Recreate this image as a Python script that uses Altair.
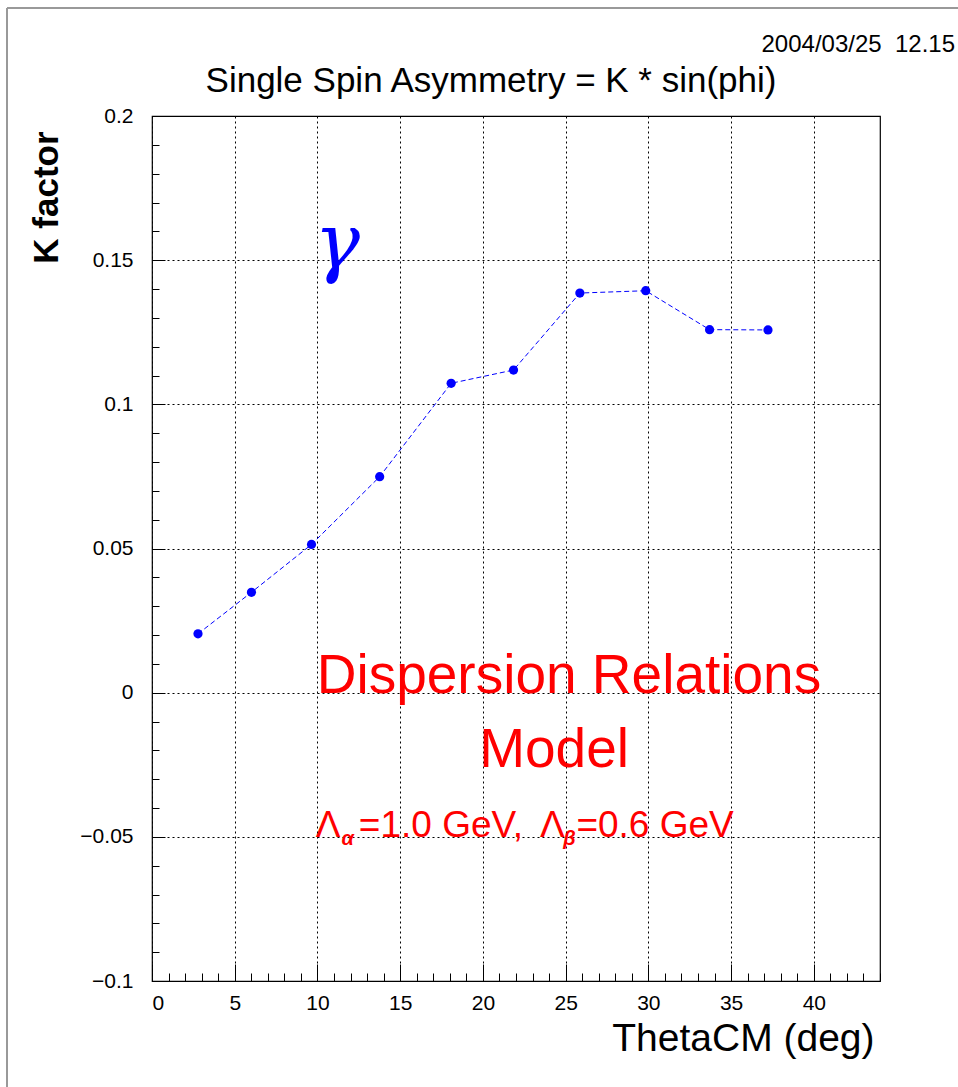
import altair as alt
import pandas as pd

# ---- data ----
theta_cm = [2.78, 6.01, 9.64, 13.76, 18.08, 21.85, 25.86, 29.84, 33.70, 37.23]
k_factor = [0.0204, 0.0348, 0.0514, 0.0749, 0.1073, 0.1119, 0.1386, 0.1394, 0.1259, 0.1258]

x_major = [0, 5, 10, 15, 20, 25, 30, 35, 40]
x_minor = list(range(0, 45))
y_major = [-0.1, -0.05, 0, 0.05, 0.1, 0.15, 0.2]
y_minor = [round(-0.1 + 0.01 * i, 2) for i in range(31)]

title_text = "Single Spin Asymmetry = K * sin(phi)"
date_text = "2004/03/25\u00a0\u00a012.15"
x_title = "ThetaCM (deg)"
y_title = "K factor"

# annotations (data coordinates)
big_text = ["Dispersion Relations", "Model"]
big_x = [25.2, 24.3]
big_y = [0.0, -0.0258]

lam_text = ["Λ", "=1.0 GeV,", "Λ", "=0.6 GeV"]
lam_x = [9.9, 12.5, 23.45, 25.65]
lam_y = [-0.05, -0.05, -0.05, -0.05]

sub_text = ["α", "β"]
sub_x = [11.45, 24.85]
sub_y = [-0.0529, -0.0527]

gamma_text = ["γ"]
gamma_x = [11.2]
gamma_y = [0.1473]

W, H = 728, 865
FONT = "Liberation Sans"

df = pd.DataFrame({"theta": theta_cm, "k": k_factor})
xs = alt.Scale(domain=[0, 44], nice=False, zero=False)
ys = alt.Scale(domain=[-0.1, 0.2], nice=False, zero=False)

blue = "#0000ff"
red = "#ff0000"

main_x_axis = alt.Axis(
    values=x_major, grid=True, gridDash=[2, 3], gridColor="black", gridOpacity=1,
    ticks=False, domain=False, labelFont=FONT, labelFontSize=21, labelColor="black",
    labelPadding=11, title=x_title, titleFont=FONT, titleFontSize=39,
    titleFontWeight="normal", titleColor="black", titleX=722, titleY=69,
    titleAlign="right", titleBaseline="alphabetic", orient="bottom",
)
main_y_axis = alt.Axis(
    values=y_major, grid=True, gridDash=[2, 3], gridColor="black", gridOpacity=1,
    ticks=False, domain=False, labelFont=FONT, labelFontSize=21, labelColor="black",
    labelPadding=19, format="~g", title=y_title, titleFont=FONT, titleFontSize=35,
    titleFontWeight="bold", titleColor="black", titleX=-95, titleY=81,
    titleAlign="center", titleBaseline="alphabetic", titleAngle=-90, orient="left",
)

line = alt.Chart(df).mark_line(color=blue, strokeDash=[5, 3], strokeWidth=1).encode(
    x=alt.X("theta:Q", scale=xs, axis=main_x_axis),
    y=alt.Y("k:Q", scale=ys, axis=main_y_axis),
)

pts = alt.Chart(df).mark_circle(color=blue, size=85, opacity=1).encode(
    x=alt.X("theta:Q", scale=xs, axis=alt.Axis(
        values=x_major, orient="bottom", offset=-17, tickSize=17, tickColor="black",
        labels=False, domain=False, grid=False, title=None)),
    y=alt.Y("k:Q", scale=ys, axis=alt.Axis(
        values=y_major, orient="left", offset=-13, tickSize=13, tickColor="black",
        labels=False, domain=False, grid=False, title=None)),
)

big_df = pd.DataFrame({"t": big_text, "ax": big_x, "ay": big_y})
big = alt.Chart(big_df).mark_text(
    color=red, font=FONT, fontSize=55, align="center", baseline="alphabetic"
).encode(
    x=alt.X("ax:Q", scale=xs, axis=alt.Axis(
        values=x_minor, orient="bottom", offset=-8, tickSize=8, tickColor="black",
        labels=False, domain=False, grid=False, title=None)),
    y=alt.Y("ay:Q", scale=ys, axis=alt.Axis(
        values=y_minor, orient="left", offset=-7, tickSize=7, tickColor="black",
        labels=False, domain=False, grid=False, title=None)),
    text="t:N",
)

lam_df = pd.DataFrame({"t": lam_text, "ax": lam_x, "ay": lam_y})
lam = alt.Chart(lam_df).mark_text(
    color=red, font=FONT, fontSize=37, align="left", baseline="alphabetic"
).encode(
    x=alt.X("ax:Q", scale=xs, axis=None),
    y=alt.Y("ay:Q", scale=ys, axis=None),
    text="t:N",
)

sub_df = pd.DataFrame({"t": sub_text, "ax": sub_x, "ay": sub_y})
sub = alt.Chart(sub_df).mark_text(
    color=red, font=FONT, fontSize=20, fontStyle="italic", fontWeight="bold",
    align="left", baseline="alphabetic"
).encode(
    x=alt.X("ax:Q", scale=xs, axis=None),
    y=alt.Y("ay:Q", scale=ys, axis=None),
    text="t:N",
)

gam_df = pd.DataFrame({"t": gamma_text, "ax": gamma_x, "ay": gamma_y})
gam = alt.Chart(gam_df).mark_text(
    color=blue, font="DejaVu Serif", fontSize=76, fontStyle="italic",
    align="center", baseline="alphabetic"
).encode(
    x=alt.X("ax:Q", scale=xs, axis=None),
    y=alt.Y("ay:Q", scale=ys, axis=None),
    text="t:N",
)

one = pd.DataFrame({"a": [0]})
title = alt.Chart(one).mark_text(
    text=title_text, font=FONT, fontSize=35, color="black",
    align="center", baseline="alphabetic"
).encode(x=alt.value(339), y=alt.value(-24))

date = alt.Chart(one).mark_text(
    text=date_text, font=FONT, fontSize=24, color="black",
    align="right", baseline="alphabetic"
).encode(x=alt.value(803), y=alt.value(-64))

frame_top = alt.Chart(one).mark_rule(color="#999999", strokeWidth=2).encode(
    x=alt.value(-145), x2=alt.value(806), y=alt.value(-108))
frame_left = alt.Chart(one).mark_rule(color="#999999", strokeWidth=2).encode(
    x=alt.value(-145), y=alt.value(-108), y2=alt.value(971))

chart = alt.layer(
    line, pts, big, lam, sub, gam, title, date, frame_top, frame_left
).resolve_axis(x="independent", y="independent").properties(
    width=W, height=H,
    autosize=alt.AutoSizeParams(type="none"),
    padding={"left": 152, "top": 116, "right": 78, "bottom": 106},
    background="white",
).configure_view(stroke="black", strokeWidth=1.2)

chart.save("out.html", embed_options={"renderer": "svg", "actions": False})
